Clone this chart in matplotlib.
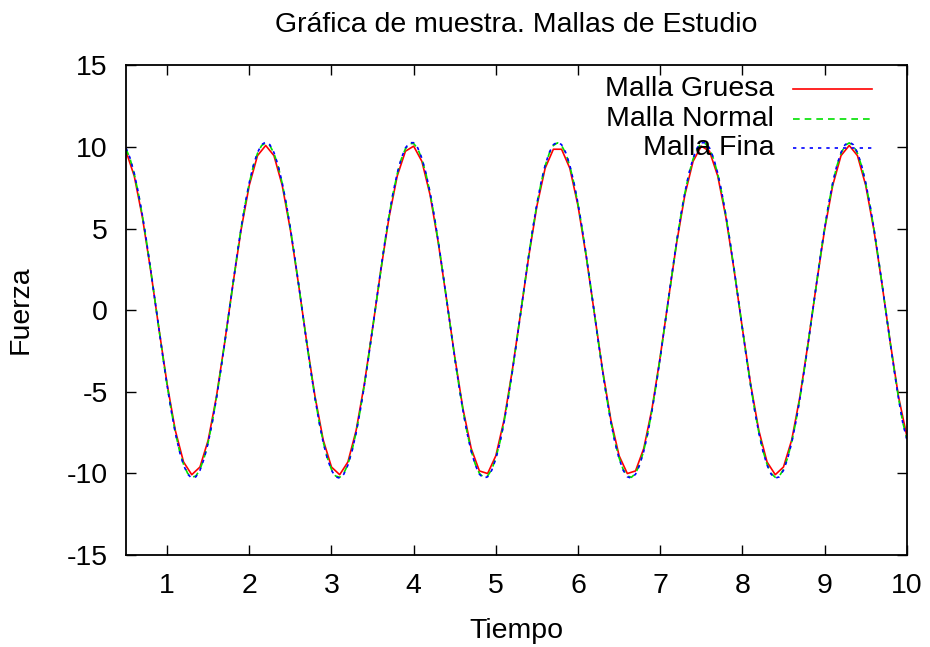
import numpy as np
import matplotlib
matplotlib.use("Agg")
import matplotlib.pyplot as plt

plt.rcParams['font.family'] = ['Liberation Sans', 'DejaVu Sans']

titulo = "Gráfica de muestra. Mallas de Estudio"
etiqueta_x = "Tiempo"
etiqueta_y = "Fuerza"
series_labels = ["Malla Gruesa", "Malla Normal", "Malla Fina"]
x_ticks = [1, 2, 3, 4, 5, 6, 7, 8, 9, 10]
y_ticks = [-15, -10, -5, 0, 5, 10, 15]

# time samples (coarse mesh every 0.1, normal/fine every 0.05)
tiempo_gruesa = np.round(np.linspace(0.5, 10.0, 96), 3)
tiempo_fina = np.round(np.linspace(0.5, 10.0, 191), 3)
tiempo_normal = tiempo_fina

fuerza_gruesa = [
    9.74, 8.22, 5.67, 2.43, -1.12, -4.52, -7.37, -9.30, -10.08, -9.61,
    -7.96, -5.30, -2.00, 1.56, 4.92, 7.66, 9.47,
    10.09, 9.47, 7.66, 4.92, 1.56, -2.00, -5.30, -7.96, -9.61, -10.08,
    -9.30, -7.37, -4.52, -1.12, 2.43, 5.67, 8.22, 9.74,
    10.05, 9.12, 7.06, 4.12, 0.67, -2.86, -6.04, -8.47, -9.85, -10.01,
    -8.92, -6.73, -3.70, -0.23, 3.28, 6.39, 8.70, 9.86,
    9.86, 8.70, 6.39, 3.28, -0.23, -3.70, -6.73, -8.92, -10.01, -9.85,
    -8.47, -6.04, -2.86, 0.67, 4.12, 7.06, 9.12, 10.05,
    9.74, 8.22, 5.67, 2.43, -1.12, -4.52, -7.37, -9.30, -10.08, -9.61,
    -7.96, -5.30, -2.00, 1.56, 4.92, 7.66, 9.47,
    10.09, 9.47, 7.66, 4.92, 1.56, -2.00, -5.30, -7.70,
]

fuerza_normal = [
    9.89, 9.26, 8.35, 7.16, 5.76, 4.18, 2.47, 0.68, -1.13, -2.91,
    -4.59, -6.13, -7.48, -8.60, -9.44, -10.00, -10.24, -10.16, -9.76, -9.05,
    -8.08, -6.84, -5.38, -3.76, -2.03, -0.23, 1.58, 3.33, 4.99, 6.49,
    7.78, 8.84, 9.61, 10.09,
    10.25, 10.09, 9.61, 8.84, 7.78, 6.49, 4.99, 3.33, 1.58, -0.23,
    -2.03, -3.76, -5.38, -6.84, -8.08, -9.05, -9.76, -10.16, -10.24, -10.00,
    -9.44, -8.60, -7.48, -6.13, -4.59, -2.91, -1.13, 0.68, 2.47, 4.18,
    5.76, 7.16, 8.35, 9.26, 9.89, 10.21,
    10.21, 9.89, 9.26, 8.35, 7.16, 5.76, 4.18, 2.47, 0.68, -1.13,
    -2.91, -4.59, -6.13, -7.48, -8.60, -9.44, -10.00, -10.24, -10.16, -9.76,
    -9.05, -8.08, -6.84, -5.38, -3.76, -2.03, -0.23, 1.58, 3.33, 4.99,
    6.49, 7.78, 8.84, 9.61, 10.09,
    10.25, 10.09, 9.61, 8.84, 7.78, 6.49, 4.99, 3.33, 1.58, -0.23,
    -2.03, -3.76, -5.38, -6.84, -8.08, -9.05, -9.76, -10.16, -10.24, -10.00,
    -9.44, -8.60, -7.48, -6.13, -4.59, -2.91, -1.13, 0.68, 2.47, 4.18,
    5.76, 7.16, 8.35, 9.26, 9.89, 10.21,
    10.21, 9.89, 9.26, 8.35, 7.16, 5.76, 4.18, 2.47, 0.68, -1.13,
    -2.91, -4.59, -6.13, -7.48, -8.60, -9.44, -10.00, -10.24, -10.16, -9.76,
    -9.05, -8.08, -6.84, -5.38, -3.76, -2.03, -0.23, 1.58, 3.33, 4.99,
    6.49, 7.78, 8.84, 9.61, 10.09,
    10.25, 10.09, 9.61, 8.84, 7.78, 6.49, 4.99, 3.33, 1.58, -0.23,
    -2.03, -3.76, -5.38, -6.84, -7.85,
]

fuerza_fina = [
    9.94, 9.31, 8.39, 7.20, 5.79, 4.20, 2.48, 0.68, -1.14, -2.92,
    -4.61, -6.16, -7.52, -8.64, -9.49, -10.05, -10.29, -10.21, -9.81, -9.10,
    -8.12, -6.87, -5.41, -3.78, -2.04, -0.23, 1.59, 3.35, 5.02, 6.52,
    7.82, 8.88, 9.66, 10.14,
    10.30, 10.14, 9.66, 8.88, 7.82, 6.52, 5.02, 3.35, 1.59, -0.23,
    -2.04, -3.78, -5.41, -6.87, -8.12, -9.10, -9.81, -10.21, -10.29, -10.05,
    -9.49, -8.64, -7.52, -6.16, -4.61, -2.92, -1.14, 0.68, 2.48, 4.20,
    5.79, 7.20, 8.39, 9.31, 9.94, 10.26,
    10.26, 9.94, 9.31, 8.39, 7.20, 5.79, 4.20, 2.48, 0.68, -1.14,
    -2.92, -4.61, -6.16, -7.52, -8.64, -9.49, -10.05, -10.29, -10.21, -9.81,
    -9.10, -8.12, -6.87, -5.41, -3.78, -2.04, -0.23, 1.59, 3.35, 5.02,
    6.52, 7.82, 8.88, 9.66, 10.14,
    10.30, 10.14, 9.66, 8.88, 7.82, 6.52, 5.02, 3.35, 1.59, -0.23,
    -2.04, -3.78, -5.41, -6.87, -8.12, -9.10, -9.81, -10.21, -10.29, -10.05,
    -9.49, -8.64, -7.52, -6.16, -4.61, -2.92, -1.14, 0.68, 2.48, 4.20,
    5.79, 7.20, 8.39, 9.31, 9.94, 10.26,
    10.26, 9.94, 9.31, 8.39, 7.20, 5.79, 4.20, 2.48, 0.68, -1.14,
    -2.92, -4.61, -6.16, -7.52, -8.64, -9.49, -10.05, -10.29, -10.21, -9.81,
    -9.10, -8.12, -6.87, -5.41, -3.78, -2.04, -0.23, 1.59, 3.35, 5.02,
    6.52, 7.82, 8.88, 9.66, 10.14,
    10.30, 10.14, 9.66, 8.88, 7.82, 6.52, 5.02, 3.35, 1.59, -0.23,
    -2.04, -3.78, -5.41, -6.87, -7.90,
]

colores = ["#ff0000", "#00e000", "#0000ff"]
estilos = ["-", (0, (4, 3)), (0, (2, 3))]

FS = 20.5
fig = plt.figure(figsize=(9.30, 6.47), dpi=100)
ax = fig.add_axes([0.1355, 0.1422, 0.8395, 0.7568])

datos = [(tiempo_gruesa, fuerza_gruesa), (tiempo_normal, fuerza_normal), (tiempo_fina, fuerza_fina)]
for (tx, fy), c, ls in zip(datos, colores, estilos):
    ax.plot(tx, fy, color=c, linestyle=ls, linewidth=1.2)

ax.set_xlim(0.5, 10)
ax.set_ylim(-15, 15)
ax.set_xticks(x_ticks)
ax.set_yticks(y_ticks)
ax.set_xticklabels([str(v) for v in x_ticks])
ax.set_yticklabels([str(v) for v in y_ticks])
ax.tick_params(direction='in', length=7, width=1.0, top=True, right=True,
               labelsize=FS, pad=13)
for s in ax.spines.values():
    s.set_linewidth(1.3)

ax.set_title(titulo, fontsize=FS, pad=24)
ax.set_xlabel(etiqueta_x, fontsize=FS, labelpad=14)
ax.set_ylabel(etiqueta_y, fontsize=FS, labelpad=24)

# gnuplot-style key: right-aligned text, sample line to the right
ys_key = [0.951, 0.891, 0.832]
for lab, c, ls, yk in zip(series_labels, colores, estilos, ys_key):
    ax.text(0.830, yk, lab, transform=ax.transAxes, ha='right', va='center', fontsize=FS)
    ax.plot([0.854, 0.956], [yk, yk], transform=ax.transAxes, color=c,
            linestyle=ls, linewidth=1.2)

fig.savefig("out.png", dpi=100)
